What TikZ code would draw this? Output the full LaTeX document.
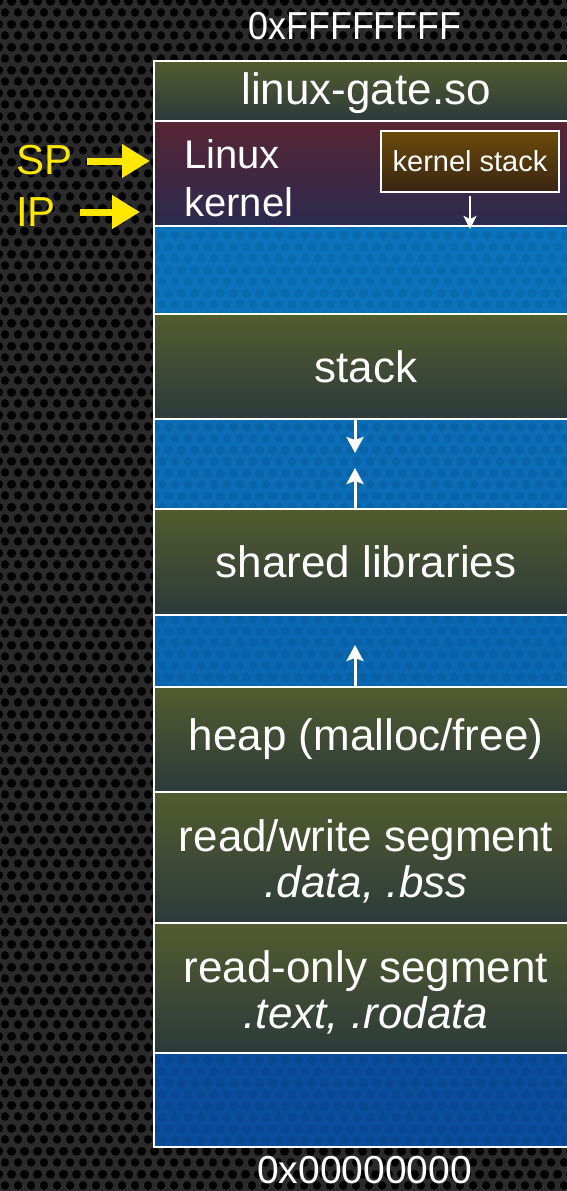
\documentclass[tikz,border=0pt]{standalone}
\usepackage{fontspec}
\setmainfont{Liberation Sans}
\usetikzlibrary{arrows.meta,patterns}

\definecolor{bgbase}{HTML}{2B2B2B}
\definecolor{segtop}{HTML}{525C2E}
\definecolor{segbot}{HTML}{2C3A3B}
\definecolor{kertop}{HTML}{582533}
\definecolor{kerbot}{HTML}{2B2A50}
\definecolor{kstop}{HTML}{6B4A0A}
\definecolor{ksbot}{HTML}{3A2412}
\definecolor{freeA}{HTML}{0A73BB}
\definecolor{freeB}{HTML}{0A6DB6}
\definecolor{freeC}{HTML}{0A68B3}
\definecolor{freeD}{HTML}{0A4D9C}
\definecolor{ptryellow}{HTML}{FFE800}

% staggered round holes: one whole hole plus two halves on the tile edges
\pgfdeclarepatternformonly{holes}{\pgfpointorigin}{\pgfpoint{13pt}{22.6pt}}{\pgfpoint{13pt}{22.6pt}}{%
  \pgfpathcircle{\pgfpoint{6.5pt}{5.65pt}}{4.4pt}%
  \pgfpathcircle{\pgfpoint{0pt}{16.95pt}}{4.4pt}%
  \pgfpathcircle{\pgfpoint{13pt}{16.95pt}}{4.4pt}%
  \pgfusepath{fill}%
}

\tikzset{
  seg/.style={rectangle, anchor=north west, inner sep=0pt, outer sep=0pt,
    minimum width=424pt, text=white, align=center,
    font=\fontsize{44}{46}\selectfont},
  used/.style={seg, top color=segtop, bottom color=segbot},
  kernseg/.style={seg, top color=kertop, bottom color=kerbot},
  freeseg/.style={seg, fill=#1,
    postaction={pattern=holes, pattern color=#1!92!black}},
  segline/.style={draw=white, line width=2pt},
  ksbox/.style={rectangle, draw=white, line width=2pt, inner sep=0pt,
    top color=kstop, bottom color=ksbot, text=white,
    minimum width=178pt, minimum height=61pt, font=\fontsize{29}{32}\selectfont},
  addr/.style={text=white, inner sep=0pt, font=\fontsize{39}{43}\selectfont},
  ptr/.style={text=ptryellow, inner sep=0pt, anchor=west, font=\fontsize{42}{46}\selectfont},
  ptrarrow/.style={draw=ptryellow, line width=7pt,
    -{Triangle[length=28pt,width=32pt]}},
  growarrow/.style={draw=white, line width=3pt,
    -{Stealth[length=16pt,width=17pt,inset=3pt]}},
  ksarrow/.style={draw=white, line width=2.5pt,
    -{Stealth[length=13pt,width=13pt,inset=3pt]}},
}

\begin{document}
\begin{tikzpicture}[x=1pt, y=1pt]
  % perforated dark backdrop
  \useasboundingbox (0,0) rectangle (567,-1191);
  \fill[bgbase] (0,0) rectangle (567,-1191);
  \fill[pattern=holes, pattern color=black] (0,0) rectangle (567,-1191);

  % address-space segments, top to bottom
  \node[used, minimum height=60pt] (gate) at (154,-61)
    {\raisebox{0pt}[26pt][0pt]{linux-gate.so}};
  \node[kernseg, minimum height=105pt] (kern) at (154,-121) {};
  \node[freeseg=freeA, minimum height=88pt] (b1) at (154,-226) {};
  \node[used, minimum height=105pt] (stk) at (154,-314) {stack};
  \node[freeseg=freeB, minimum height=90pt] (b2) at (154,-419) {};
  \node[used, minimum height=106pt] (shl) at (154,-509) {shared libraries};
  \node[freeseg=freeC, minimum height=72pt] (b3) at (154,-615) {};
  \node[used, minimum height=105pt] (heap) at (154,-687) {heap (malloc/free)};
  \node[used, minimum height=131pt] (rw) at (154,-792) {};
  \node[used, minimum height=130pt] (ro) at (154,-923) {};
  \node[freeseg=freeD, minimum height=94pt] (b4) at (154,-1053) {};

  % two-line segment labels
  \node[text=white, align=center, inner sep=0pt, font=\fontsize{44}{46}\selectfont]
    (rwtxt) at ([yshift=-4pt]rw.center) {read/write segment\\\textit{.data, .bss}};
  \node[text=white, align=center, inner sep=0pt, font=\fontsize{44}{46}\selectfont]
    (rotxt) at ([yshift=-4pt]ro.center) {read-only segment\\\textit{.text, .rodata}};

  % white rules round every segment
  \foreach \s in {gate,kern,b1,stk,b2,shl,b3,heap,rw,ro,b4}
    \draw[segline] (\s.north west) rectangle (\s.south east);

  % kernel contents
  \node[anchor=north west, inner sep=0pt, align=left, text=white,
    font=\fontsize{40}{48}\selectfont] (ktxt) at (184,-139.5) {Linux\\kernel};
  \node[ksbox] (ks) at (470,-161.5) {kernel stack};
  \draw[ksarrow] ([yshift=-3pt]ks.south) -- ([yshift=-3pt]ks.south |- kern.south);

  % growth directions
  \coordinate (stkdn) at (355,-453);
  \coordinate (shlup) at (355,-468);
  \coordinate (heapup) at (355,-645);
  \draw[growarrow] (stk.south -| stkdn) -- (stkdn);
  \draw[growarrow] (shl.north -| shlup) -- (shlup);
  \draw[growarrow] (heap.north -| heapup) -- (heapup);

  % address bounds
  \node[addr] (hi) at (355,-26) {\scalebox{0.92}[1]{0xFFFFFFFF}};
  \node[addr] (lo) at (364.5,-1170) {0x00000000};

  % register pointers
  \node[ptr] (sp) at (16,-160) {SP};
  \node[ptr] (ip) at (16,-212) {IP};
  \coordinate (sptip) at (150,-161);
  \coordinate (iptip) at (140,-212);
  \draw[ptrarrow] ([xshift=15pt]sp.east |- sptip) -- (sptip);
  \draw[ptrarrow] ([xshift=24pt]ip.east |- iptip) -- (iptip);
\end{tikzpicture}
\end{document}
